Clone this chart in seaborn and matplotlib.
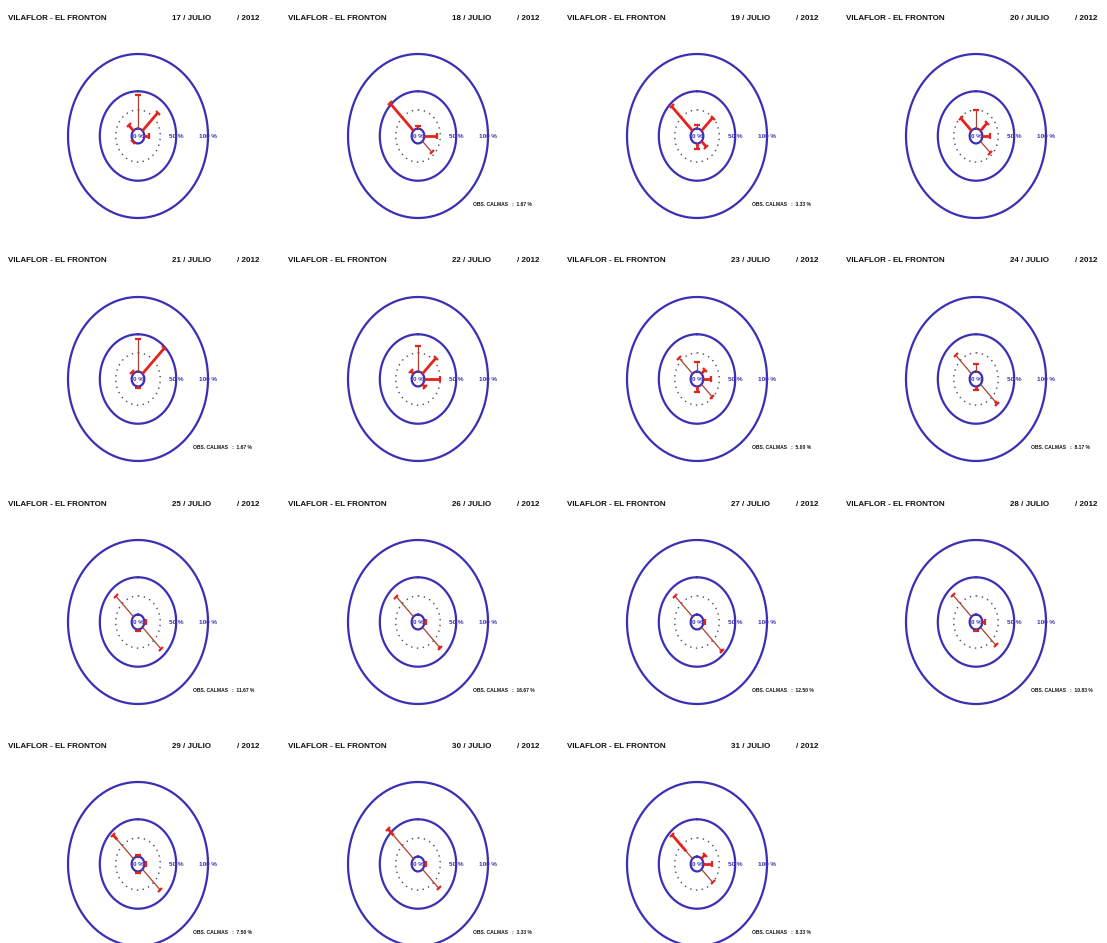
import numpy as np
import pandas as pd
import matplotlib
matplotlib.use("Agg")
import matplotlib.pyplot as plt
from matplotlib import font_manager
from matplotlib.markers import MarkerStyle
from matplotlib.transforms import Affine2D
import seaborn as sns

# ---------------- data ----------------
station = "VILAFLOR - EL FRONTON"
month = "JULIO"
year = "2012"
days = [17, 18, 19, 20, 21, 22, 23, 24, 25, 26, 27, 28, 29, 30, 31]
directions = ["N", "NE", "E", "SE", "S", "SW", "W", "NW"]
dir_angles = [0, 45, 90, 135, 180, 225, 270, 315]
calms = [None, 1.67, 3.33, None, 1.67, None, 5.00, 8.17,
         11.67, 16.67, 12.50, 10.83, 7.50, 3.33, 8.33]
# % frequency per direction, low-speed class (thin segment)
low_speed = [
    [45, 0, 0, 0, 0, 0, 0, 0],
    [3, 0, 0, 21, 0, 0, 0, 0],
    [5, 0, 0, 0, 0, 0, 0, 0],
    [25, 0, 0, 22, 0, 0, 0, 0],
    [44, 0, 0, 0, 0, 0, 0, 0],
    [34, 0, 0, 0, 0, 0, 0, 0],
    [13, 0, 0, 24, 0, 0, 0, 30],
    [10, 0, 0, 32, 0, 0, 0, 35],
    [0, 0, 0, 41, 2, 0, 0, 39],
    [0, 0, 0, 36, 0, 0, 0, 38],
    [0, 0, 0, 42, 0, 0, 0, 40],
    [0, 0, 0, 34, 2, 0, 0, 41],
    [2, 0, 0, 40, 2, 0, 0, 36],
    [0, 0, 0, 36, 0, 0, 0, 44],
    [0, 0, 0, 25, 0, 0, 0, 14],
]
# % frequency per direction, high-speed class (thick segment)
high_speed = [
    [0, 34, 8, 0, 0, 2, 0, 11],
    [0, 0, 20, 0, 0, 0, 0, 53],
    [0, 25, 0, 10, 8, 0, 0, 46],
    [0, 14, 12, 0, 0, 0, 0, 24],
    [0, 48, 0, 0, 2, 0, 0, 4],
    [0, 29, 24, 6, 0, 0, 0, 5],
    [0, 7, 12, 0, 7, 0, 0, 0],
    [0, 0, 0, 5, 5, 0, 0, 0],
    [0, 0, 3, 0, 0, 0, 0, 0],
    [0, 0, 3, 3, 0, 0, 0, 0],
    [0, 0, 2, 3, 0, 0, 0, 0],
    [0, 0, 4, 0, 0, 0, 0, 0],
    [0, 0, 2, 0, 0, 0, 0, 9],
    [0, 0, 3, 0, 0, 0, 0, 12],
    [0, 8, 13, 0, 0, 0, 0, 31],
]
ring_levels = [0, 50, 100]
ring_labels = ["0 %", "50 %", "100 %"]
dotted_level = 25

# ---------------- style ----------------
sns.set_theme(style="white")
avail = {f.name for f in font_manager.fontManager.ttflist}
fam = [f for f in ["Liberation Sans Narrow", "Liberation Sans", "DejaVu Sans"] if f in avail]
plt.rcParams["font.family"] = fam

W, H = 1107, 943
fig = plt.figure(figsize=(W / 100, H / 100), dpi=100)
fig.patch.set_facecolor("white")

R0 = 10.0                 # data radius of the 0 % ring
SX = 70.0 / 110.0         # px per data unit, horizontal
SY = 82.0 / 110.0         # px per data unit, vertical
HW, HH = 138, 112         # half size of each panel axes in px
col_cx = [138, 418, 697, 976]
row_cy = [136, 379, 622, 864]

RING_C = "#3a2fb5"
THIN_C = "#a8402e"
THICK_C = "#e3231c"
DOT_C = "#4a4a5a"

theta = np.linspace(0, 2 * np.pi, 361)

def fx(px):
    return px / W

def fy(py):
    return 1 - py / H

for i, day in enumerate(days):
    r, c = divmod(i, 4)
    cx, cy = col_cx[c], row_cy[r]
    ax = fig.add_axes([fx(cx - HW), fy(cy + HH), 2 * HW / W, 2 * HH / H])
    ax.set_xlim(-HW / SX, HW / SX)
    ax.set_ylim(-HH / SY, HH / SY)
    ax.set_axis_off()

    # rings
    for lev in ring_levels:
        rr = R0 + lev
        ring = pd.DataFrame({"x": rr * np.sin(theta), "y": rr * np.cos(theta)})
        sns.lineplot(data=ring, x="x", y="y", sort=False, estimator=None,
                     color=RING_C, lw=1.6, ax=ax)
    rr = R0 + dotted_level
    ax.plot(rr * np.sin(theta), rr * np.cos(theta), color=DOT_C, lw=1.0,
            ls=(0, (1, 3.2)))

    # spokes
    for k, ang in enumerate(dir_angles):
        lo = low_speed[i][k]
        hi = high_speed[i][k]
        if lo + hi <= 0:
            continue
        a = np.deg2rad(ang)
        sx, sy = np.sin(a), np.cos(a)
        if lo > 0:
            ax.plot([R0 * sx, (R0 + lo) * sx], [R0 * sy, (R0 + lo) * sy],
                    color=THIN_C, lw=0.9, solid_capstyle="butt", zorder=3)
        if hi > 0:
            ax.plot([(R0 + lo) * sx, (R0 + lo + hi) * sx],
                    [(R0 + lo) * sy, (R0 + lo + hi) * sy],
                    color=THICK_C, lw=2.0, solid_capstyle="butt", zorder=4)
        tot = R0 + lo + hi
        m = MarkerStyle("_", transform=Affine2D().rotate_deg(-ang))
        ax.plot([tot * sx], [tot * sy], marker=m, ms=4.5, mew=1.6,
                color=THICK_C, ls="none", zorder=5)

    # ring labels
    for lev, lab in zip(ring_levels, ring_labels):
        xpos = 0 if lev == 0 else R0 + lev
        ax.text(xpos, 0, lab, ha="center", va="center", fontsize=4.6,
                fontweight="bold", color=RING_C, zorder=6)

    # titles
    ty = cy - 118
    fig.text(fx(cx - 130), fy(ty), station, ha="left", va="center",
             fontsize=5.8, fontweight="bold", color="#111111")
    fig.text(fx(cx + 34), fy(ty), f"{day} / {month}", ha="left", va="center",
             fontsize=5.8, fontweight="bold", color="#111111")
    fig.text(fx(cx + 99), fy(ty), f"/ {year}", ha="left", va="center",
             fontsize=5.8, fontweight="bold", color="#111111")

    if calms[i] is not None:
        fig.text(fx(cx + 55), fy(cy + 69), f"OBS. CALMAS   :  {calms[i]:.2f} %",
                 ha="left", va="center", fontsize=3.6, fontweight="bold",
                 color="#111111")

fig.savefig("out.png", dpi=100, facecolor="white")
